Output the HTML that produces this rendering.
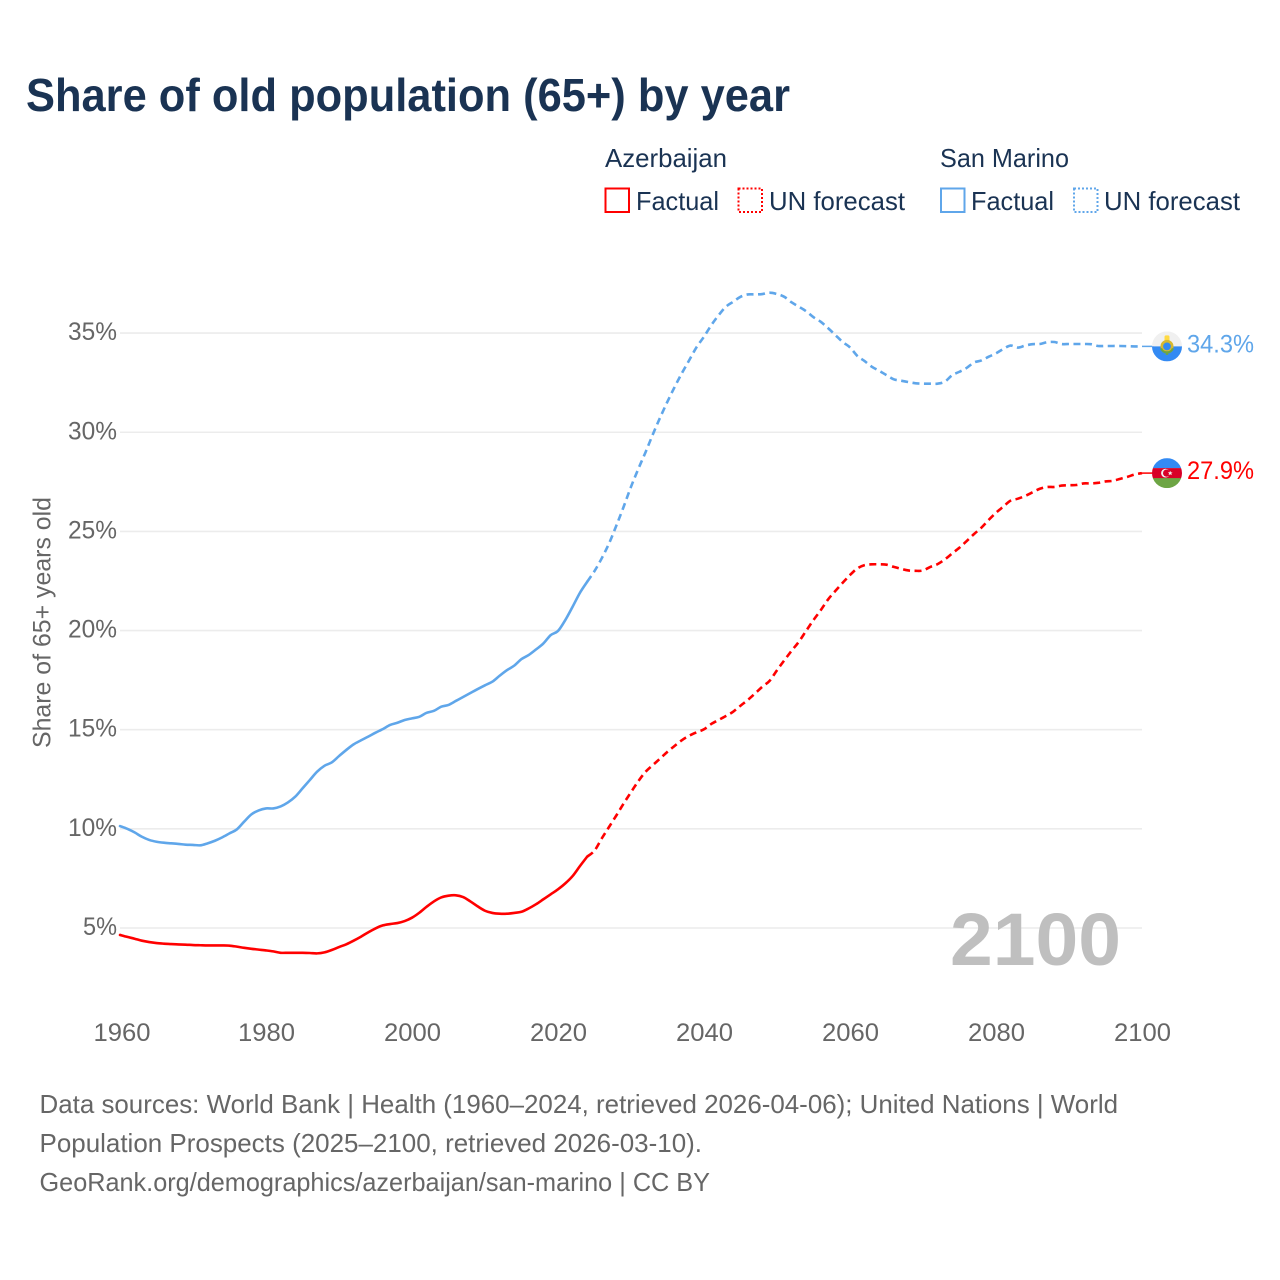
<!DOCTYPE html>
<html lang="en">
<head>
<meta charset="utf-8">
<title>Share of old population (65+) by year</title>
<style>
html,body{margin:0;padding:0;background:#fff;}
svg{display:block;font-family:"Liberation Sans",sans-serif;}
</style>
</head>
<body>
<svg id="chart" xmlns="http://www.w3.org/2000/svg" width="1280" height="1280" viewBox="0 0 1280 1280">
  <rect x="0" y="0" width="1280" height="1280" fill="#ffffff"/>
  <text x="26" y="111" font-size="46" font-weight="700" fill="#1a3353" textLength="764" lengthAdjust="spacingAndGlyphs">Share of old population (65+) by year</text>

  <g font-size="26" fill="#1a3353">
    <text x="605" y="167" textLength="122" lengthAdjust="spacingAndGlyphs">Azerbaijan</text>
    <text x="940" y="167" textLength="129" lengthAdjust="spacingAndGlyphs">San Marino</text>
    <g>
      <rect x="605.5" y="188.5" width="23.5" height="23.5" fill="none" stroke="#ff0000" stroke-width="2"/>
      <text x="636" y="210" textLength="83" lengthAdjust="spacingAndGlyphs">Factual</text>
    </g>
    <g>
      <rect x="738.5" y="188.5" width="23.5" height="23.5" fill="none" stroke="#ff0000" stroke-width="2" stroke-dasharray="2 2"/>
      <text x="769" y="210" textLength="136" lengthAdjust="spacingAndGlyphs">UN forecast</text>
    </g>
    <g>
      <rect x="941" y="188.5" width="23.5" height="23.5" fill="none" stroke="#5fa6ea" stroke-width="2"/>
      <text x="971" y="210" textLength="83" lengthAdjust="spacingAndGlyphs">Factual</text>
    </g>
    <g>
      <rect x="1074" y="188.5" width="23.5" height="23.5" fill="none" stroke="#5fa6ea" stroke-width="2" stroke-dasharray="2 2"/>
      <text x="1104" y="210" textLength="136" lengthAdjust="spacingAndGlyphs">UN forecast</text>
    </g>
  </g>

  <text transform="translate(50.5,622.5) rotate(-90)" text-anchor="middle" font-size="25" fill="#666666" textLength="251" lengthAdjust="spacingAndGlyphs">Share of 65+ years old</text>

  <g id="grid"></g>
  <g id="y-axis"></g>
  <g id="x-axis"></g>

  <text x="950" y="965" font-size="74" font-weight="700" fill="#bfbfbf" textLength="171" lengthAdjust="spacingAndGlyphs">2100</text>

  <g id="series"></g>

  <defs>
    <clipPath id="flag-clip"><circle cx="0" cy="0" r="15"/></clipPath>
  </defs>

  <g id="flag-sm" clip-path="none">
    <g clip-path="url(#flag-clip)">
      <rect x="-15" y="-15" width="30" height="15" fill="#f0f0f0"/>
      <rect x="-15" y="0" width="30" height="15" fill="#338af3"/>
    </g>
    <rect x="-2.5" y="-11" width="5" height="6" rx="1.5" fill="#ffda44"/>
    <circle cx="0" cy="0" r="5.2" fill="#338af3" stroke="#d8b92e" stroke-width="2.6"/>
    <path d="M-6 2 A6.5 6.5 0 0 0 6 2" fill="none" stroke="#6da544" stroke-width="2.2"/>
    <rect x="-1.2" y="6" width="2.4" height="2.5" fill="#6da544"/>
  </g>
  <g id="flag-az">
    <g clip-path="url(#flag-clip)">
      <rect x="-15" y="-15" width="30" height="10" fill="#338af3"/>
      <rect x="-15" y="-5" width="30" height="10.5" fill="#d80027"/>
      <rect x="-15" y="5" width="30" height="10" fill="#6da544"/>
    </g>
    <circle cx="-1.5" cy="0" r="4.4" fill="#f0f0f0"/>
    <circle cx="-0.4" cy="0" r="3.6" fill="#d80027"/>
    <polygon points="3.2,-2.3 3.9,-0.7 5.6,-0.7 4.3,0.4 4.8,2 3.2,1.1 1.6,2 2.1,0.4 0.8,-0.7 2.5,-0.7" fill="#f0f0f0"/>
  </g>

  <g font-size="26" fill="#666666">
    <text x="39.5" y="1113" textLength="1078.5" lengthAdjust="spacingAndGlyphs">Data sources: World Bank | Health (1960–2024, retrieved 2026-04-06); United Nations | World</text>
    <text x="39.5" y="1152" textLength="662.5" lengthAdjust="spacingAndGlyphs">Population Prospects (2025–2100, retrieved 2026-03-10).</text>
    <text x="39.5" y="1191" textLength="670.5" lengthAdjust="spacingAndGlyphs">GeoRank.org/demographics/azerbaijan/san-marino | CC BY</text>
  </g>
</svg>

<script>
const firstYear = 1960;
const forecastStartYear = 2025;
const yTickValues = [5, 10, 15, 20, 25, 30, 35];
const xTickYears = [1960, 1980, 2000, 2020, 2040, 2060, 2080, 2100];

const azerbaijanFactual = [
  4.65,4.55,4.46,4.36,4.29,4.24,4.21,4.19,4.17,4.16,
  4.14,4.13,4.12,4.12,4.12,4.11,4.06,4.00,3.95,3.91,
  3.87,3.82,3.75,3.75,3.75,3.75,3.74,3.72,3.77,3.89,
  4.04,4.18,4.36,4.56,4.78,4.98,5.13,5.20,5.25,5.35,
  5.52,5.77,6.07,6.34,6.54,6.63,6.65,6.56,6.34,6.09,
  5.87,5.76,5.72,5.72,5.76,5.82,5.99,6.20,6.45,6.70,
  6.95,7.25,7.62,8.12,8.60
];
const azerbaijanForecast = [
  8.90,9.52,10.10,10.68,11.28,11.85,12.40,12.88,13.22,13.55,13.89,14.19,14.48,14.70,14.87,
  15.02,15.29,15.49,15.69,15.91,16.21,16.50,16.83,17.17,17.47,
  18.00,18.50,18.98,19.44,19.99,20.53,21.03,21.57,22.00,22.41,
  22.80,23.13,23.30,23.34,23.34,23.32,23.21,23.11,23.03,23.01,
  23.03,23.21,23.35,23.59,23.89,24.18,24.52,24.87,25.19,25.58,
  25.94,26.25,26.55,26.65,26.79,26.97,27.15,27.24,27.24,27.31,
  27.33,27.34,27.42,27.42,27.45,27.52,27.55,27.65,27.75,27.87,27.94
];
const sanMarinoFactual = [
  10.14,10.00,9.82,9.60,9.44,9.35,9.30,9.27,9.24,9.20,
  9.19,9.17,9.27,9.40,9.57,9.77,9.97,10.36,10.73,10.93,
  11.03,11.03,11.13,11.33,11.62,12.04,12.46,12.88,13.18,13.35,
  13.67,13.98,14.26,14.46,14.65,14.85,15.03,15.24,15.35,15.49,
  15.57,15.65,15.85,15.95,16.16,16.25,16.45,16.65,16.85,17.05,
  17.24,17.42,17.72,18.00,18.23,18.56,18.77,19.05,19.35,19.77,
  19.98,20.53,21.20,21.90,22.46
];
const sanMarinoForecast = [
  23.00,23.65,24.40,25.30,26.25,27.25,28.15,29.00,29.90,30.75,31.55,32.30,33.00,33.65,34.30,
  34.82,35.40,35.90,36.33,36.58,36.83,36.95,36.95,36.97,37.04,
  36.97,36.83,36.55,36.33,36.10,35.80,35.57,35.25,34.90,34.55,
  34.28,33.85,33.59,33.30,33.10,32.88,32.67,32.60,32.53,32.47,
  32.45,32.45,32.45,32.55,32.88,33.05,33.25,33.52,33.62,33.81,
  33.98,34.20,34.37,34.27,34.37,34.44,34.45,34.54,34.55,34.45,
  34.45,34.45,34.45,34.44,34.35,34.35,34.35,34.35,34.34,34.33,34.33
];

const SVG_NS = 'http://www.w3.org/2000/svg';
const RED = '#ff0000';
const BLUE = '#5fa6ea';

function xScale(year) { return 120 + (year - 1960) * 7.3; }
function yScale(value) { return 928 - (value - 5) * 19.83; }

function svgEl(tag, parent, attrs, text) {
  const el = document.createElementNS(SVG_NS, tag);
  for (const k in attrs) el.setAttribute(k, attrs[k]);
  if (text !== undefined) el.textContent = text;
  parent.appendChild(el);
  return el;
}

const gridGroup = document.getElementById('grid');
const yAxisGroup = document.getElementById('y-axis');
yTickValues.forEach(function (v) {
  const line = svgEl('line', gridGroup, { x1: 120, x2: 1142, y1: yScale(v), y2: yScale(v), stroke: '#ececec', 'stroke-width': 1.6 });
  
  
  const label = svgEl('text', yAxisGroup, { x: v < 10 ? 83 : 68, y: yScale(v) + 7, 'font-size': 25, fill: '#666666', textLength: v < 10 ? 34 : 49, lengthAdjust: 'spacingAndGlyphs' }, v + '%');
  
  
});

const xAxisGroup = document.getElementById('x-axis');
xTickYears.forEach(function (year) {
  const label = svgEl('text', xAxisGroup, { x: xScale(year) - 28 + (year === firstYear ? 1.5 : 0), y: 1041, 'font-size': 25, fill: '#666666', textLength: 57, lengthAdjust: 'spacingAndGlyphs' }, String(year));
  
  
});

function smoothPath(values, startYear) {
  const pts = values.map(function (v, i) {
    return [xScale(startYear + i), yScale(v)];
  });
  let d = 'M' + pts[0][0].toFixed(2) + ' ' + pts[0][1].toFixed(2);
  for (let i = 0; i < pts.length - 1; i++) {
    const p0 = pts[Math.max(i - 1, 0)];
    const p1 = pts[i];
    const p2 = pts[i + 1];
    const p3 = pts[Math.min(i + 2, pts.length - 1)];
    const c1x = p1[0] + (p2[0] - p0[0]) / 6;
    const c1y = p1[1] + (p2[1] - p0[1]) / 6;
    const c2x = p2[0] - (p3[0] - p1[0]) / 6;
    const c2y = p2[1] - (p3[1] - p1[1]) / 6;
    d += 'C' + c1x.toFixed(2) + ' ' + c1y.toFixed(2) + ' ' + c2x.toFixed(2) + ' ' + c2y.toFixed(2) + ' ' + p2[0].toFixed(2) + ' ' + p2[1].toFixed(2);
  }
  return d;
}

const seriesGroup = document.getElementById('series');

function drawSeries(factual, forecast, colour, key, labelName, flagId) {
  const lastFactual = factual[factual.length - 1];
  const lastValue = forecast[forecast.length - 1];
  const lastYear = forecastStartYear + forecast.length - 1;
  const endX = xScale(lastYear);
  const endY = yScale(lastValue);

  const solid = svgEl('path', seriesGroup, { d: smoothPath(factual, firstYear), fill: 'none', stroke: colour, 'stroke-width': 2.6, 'stroke-linejoin': 'round', 'stroke-linecap': 'round' });
  
  

  const dashed = svgEl('path', seriesGroup, { d: smoothPath([lastFactual].concat(forecast), forecastStartYear - 1), fill: 'none', stroke: colour, 'stroke-width': 2.6, 'stroke-linejoin': 'round', 'stroke-dasharray': '7 4.5' });
  
  

  const connector = svgEl('line', seriesGroup, { x1: endX, x2: endX + 12, y1: endY, y2: endY, stroke: colour, 'stroke-width': 1.5 });
  
  

  document.getElementById(flagId).setAttribute('transform', 'translate(' + (endX + 25) + ',' + endY + ')');

  const label = svgEl('text', seriesGroup, { x: endX + 45, y: endY + 6, 'font-size': 25, fill: colour, textLength: 67, lengthAdjust: 'spacingAndGlyphs' }, lastValue.toFixed(1) + '%');
  
  
}

drawSeries(azerbaijanFactual, azerbaijanForecast, RED, 'azerbaijan', 'azerbaijan-end-label', 'flag-az');
drawSeries(sanMarinoFactual, sanMarinoForecast, BLUE, 'san-marino', 'san-marino-end-label', 'flag-sm');
</script>
</body>
</html>
